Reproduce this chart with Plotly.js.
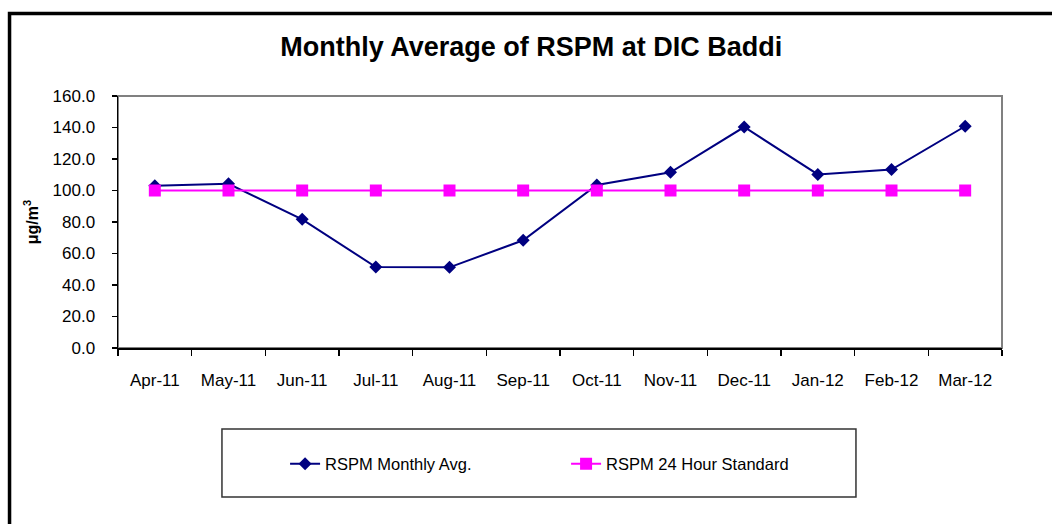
<!DOCTYPE html>
<html>
<head>
<meta charset="utf-8">
<script src="https://cdn.plot.ly/plotly-3.0.1.min.js"></script>
<style>
html,body{margin:0;padding:0;background:#fff;}
#chart{width:1052px;height:524px;}
</style>
</head>
<body>
<div id="chart"></div>
<script>
const months = ["Apr-11","May-11","Jun-11","Jul-11","Aug-11","Sep-11","Oct-11","Nov-11","Dec-11","Jan-12","Feb-12","Mar-12"];
const rspmMonthlyAvg = [103.0, 104.3, 81.7, 51.4, 51.2, 68.4, 103.5, 111.6, 140.3, 110.2, 113.3, 140.8];
const rspmStandard = [100, 100, 100, 100, 100, 100, 100, 100, 100, 100, 100, 100];
const yTicks = [0, 20, 40, 60, 80, 100, 120, 140, 160];

const FONT = "'Liberation Sans', Arial, sans-serif";

const traces = [
  {
    x: months, y: rspmMonthlyAvg, name: "RSPM Monthly Avg.",
    type: "scatter", mode: "lines+markers",
    line: {color: "#000080", width: 2},
    marker: {symbol: "diamond", size: 10, color: "#000080"}
  },
  {
    x: months, y: rspmStandard, name: "RSPM 24 Hour Standard",
    type: "scatter", mode: "lines+markers",
    line: {color: "#FF00FF", width: 2},
    marker: {symbol: "square", size: 12, color: "#FF00FF"}
  }
];

const layout = {
  width: 1052, height: 524,
  margin: {l: 118, r: 50, t: 96, b: 176},
  paper_bgcolor: "#ffffff", plot_bgcolor: "#ffffff",
  font: {family: FONT, size: 17, color: "#000"},
  title: {
    text: "<b>Monthly Average of RSPM at DIC Baddi</b>",
    font: {family: FONT, size: 27, color: "#000"},
    x: 0.505, xanchor: "center", y: 0.912, yanchor: "middle", xref: "container", yref: "container"
  },
  xaxis: {
    type: "category",
    showgrid: false, zeroline: false,
    showline: true, linecolor: "#000", linewidth: 1.5,
    ticks: "outside", ticklen: 6, tickcolor: "#000", tickwidth: 1.5,
    tickson: "boundaries",
    ticklabelstandoff: 16,
    tickfont: {family: FONT, size: 17, color: "#000"},
    range: [-0.5, 11.5],
    fixedrange: true
  },
  yaxis: {
    range: [0, 160],
    tickvals: yTicks,
    tickformat: ".1f",
    showgrid: false, zeroline: false,
    showline: true, linecolor: "#000", linewidth: 1.5,
    ticks: "outside", ticklen: 5, tickcolor: "#000", tickwidth: 1.5,
    ticklabelstandoff: 13,
    tickfont: {family: FONT, size: 17, color: "#000"},
    title: {text: "<b>μg/m<sup>3</sup></b>", font: {family: FONT, size: 16, color: "#000"}, standoff: 10},
    fixedrange: true
  },
  showlegend: true,
  legend: {
    orientation: "h",
    x: 0.189, xanchor: "left",
    y: -0.46, yanchor: "middle",
    bgcolor: "rgba(0,0,0,0)",
    borderwidth: 0,
    entrywidth: 236, entrywidthmode: "pixels",
    font: {family: FONT, size: 16.5, color: "#000"}
  },
  shapes: [
    {type: "rect", xref: "paper", yref: "paper", x0: 0, x1: 1, y0: 0, y1: 1,
     line: {color: "#808080", width: 2}, layer: "below"},
    {type: "rect", xref: "paper", yref: "paper", x0: 0.1176, x1: 0.8348, y0: -0.5913, y1: -0.3214,
     line: {color: "#333333", width: 1.5}, fillcolor: "rgba(0,0,0,0)"},
    {type: "path", xref: "paper", yref: "paper",
     path: "M -0.1227,-0.78 L -0.1227,1.3274 L 1.08,1.3274",
     line: {color: "#000", width: 3.5}}
  ]
};

Plotly.newPlot("chart", traces, layout, {displayModeBar: false, staticPlot: true});
</script>
</body>
</html>
